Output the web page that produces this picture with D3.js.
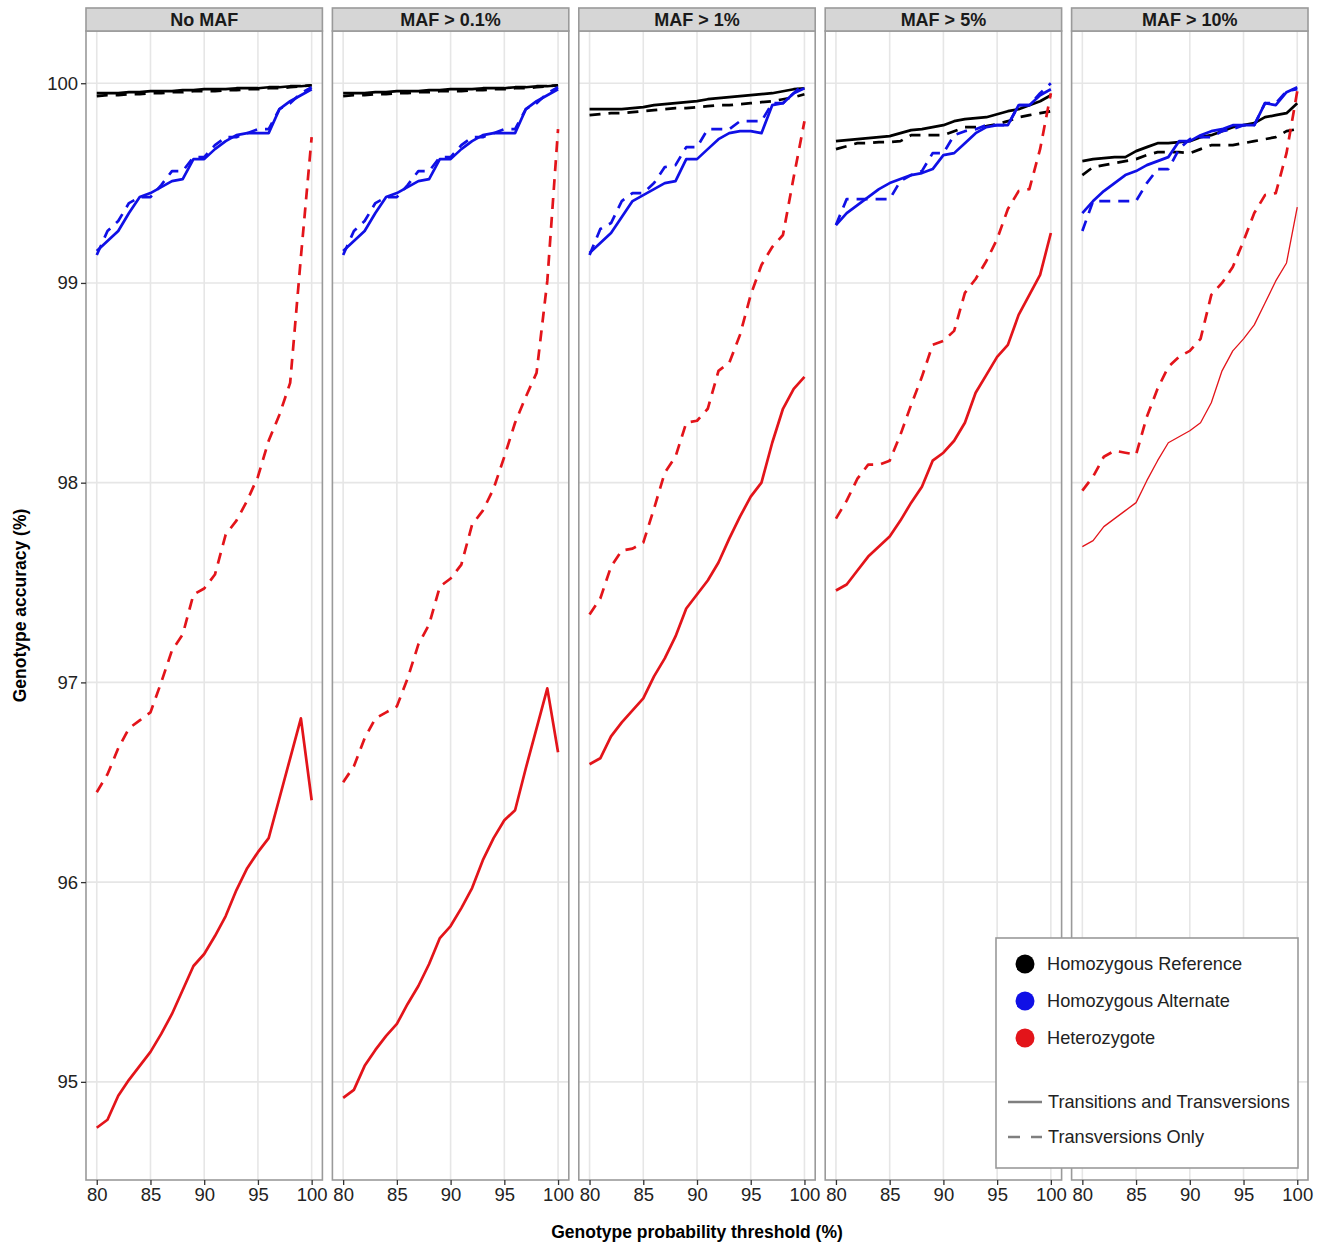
<!DOCTYPE html>
<html>
<head>
<meta charset="utf-8">
<script src="https://cdn.jsdelivr.net/npm/d3@7"></script>
<style>
  body { margin: 0; background: #fff; }
  svg text { font-family: "Liberation Sans", Arial, Helvetica, sans-serif; }
</style>
</head>
<body>
<div id="chart"></div>
<script>
// facets, groups and x values
const panels = ["No MAF", "MAF > 0.1%", "MAF > 1%", "MAF > 5%", "MAF > 10%"];
const genotypes = ["Homozygous Reference", "Homozygous Alternate", "Heterozygote"];
const variantSets = ["Transitions and Transversions", "Transversions Only"];
const thresholds = [80, 81, 82, 83, 84, 85, 86, 87, 88, 89, 90, 91, 92, 93, 94, 95, 96, 97, 98, 99, 100];
const xTicks = [80, 85, 90, 95, 100];
const yTicks = [95, 96, 97, 98, 99, 100];

// accuracy (%) per panel, one row per facet
const homRefAll = [
  [99.95, 99.95, 99.95, 99.955, 99.955, 99.96, 99.96, 99.96, 99.965, 99.965, 99.97, 99.97, 99.97, 99.975, 99.975, 99.975, 99.98, 99.98, 99.985, 99.985, 99.99],
  [99.95, 99.95, 99.95, 99.955, 99.955, 99.96, 99.96, 99.96, 99.965, 99.965, 99.97, 99.97, 99.97, 99.975, 99.975, 99.975, 99.98, 99.98, 99.985, 99.985, 99.99],
  [99.87, 99.87, 99.87, 99.87, 99.875, 99.88, 99.89, 99.895, 99.90, 99.905, 99.91, 99.92, 99.925, 99.93, 99.935, 99.94, 99.945, 99.95, 99.96, 99.97, 99.975],
  [99.71, 99.715, 99.72, 99.725, 99.73, 99.735, 99.75, 99.765, 99.77, 99.78, 99.79, 99.81, 99.82, 99.825, 99.83, 99.845, 99.86, 99.87, 99.89, 99.91, 99.94],
  [99.61, 99.62, 99.625, 99.63, 99.63, 99.66, 99.68, 99.70, 99.70, 99.705, 99.71, 99.73, 99.74, 99.76, 99.78, 99.79, 99.80, 99.83, 99.84, 99.85, 99.90]
];
const homRefTv = [
  [99.935, 99.94, 99.94, 99.945, 99.945, 99.95, 99.95, 99.955, 99.955, 99.96, 99.96, 99.96, 99.965, 99.965, 99.97, 99.97, 99.975, 99.975, 99.98, 99.985, 99.99],
  [99.935, 99.94, 99.94, 99.945, 99.945, 99.95, 99.95, 99.955, 99.955, 99.96, 99.96, 99.96, 99.965, 99.965, 99.97, 99.97, 99.975, 99.975, 99.98, 99.985, 99.99],
  [99.84, 99.845, 99.85, 99.85, 99.855, 99.86, 99.865, 99.87, 99.875, 99.875, 99.88, 99.885, 99.89, 99.89, 99.895, 99.90, 99.905, 99.91, 99.92, 99.93, 99.945],
  [99.67, 99.685, 99.70, 99.70, 99.705, 99.705, 99.71, 99.74, 99.74, 99.74, 99.74, 99.76, 99.78, 99.78, 99.785, 99.795, 99.81, 99.83, 99.84, 99.85, 99.86],
  [99.54, 99.58, 99.59, 99.60, 99.61, 99.62, 99.64, 99.655, 99.655, 99.655, 99.65, 99.67, 99.69, 99.69, 99.69, 99.70, 99.71, 99.72, 99.73, 99.76, 99.77]
];
const homAltAll = [
  [99.16, 99.21, 99.26, 99.35, 99.43, 99.45, 99.48, 99.51, 99.52, 99.62, 99.62, 99.67, 99.71, 99.74, 99.75, 99.75, 99.75, 99.87, 99.91, 99.94, 99.97],
  [99.16, 99.21, 99.26, 99.35, 99.43, 99.45, 99.48, 99.51, 99.52, 99.62, 99.62, 99.67, 99.71, 99.74, 99.75, 99.75, 99.75, 99.87, 99.91, 99.94, 99.97],
  [99.15, 99.20, 99.25, 99.33, 99.41, 99.44, 99.47, 99.50, 99.51, 99.62, 99.62, 99.67, 99.72, 99.75, 99.76, 99.76, 99.75, 99.89, 99.90, 99.95, 99.975],
  [99.29, 99.35, 99.39, 99.43, 99.47, 99.50, 99.52, 99.54, 99.55, 99.57, 99.64, 99.65, 99.70, 99.75, 99.78, 99.79, 99.79, 99.89, 99.89, 99.94, 99.97],
  [99.35, 99.41, 99.46, 99.50, 99.54, 99.56, 99.59, 99.61, 99.63, 99.71, 99.71, 99.74, 99.76, 99.77, 99.79, 99.79, 99.79, 99.90, 99.89, 99.955, 99.98]
];
const homAltTv = [
  [99.14, 99.26, 99.31, 99.40, 99.43, 99.43, 99.49, 99.56, 99.56, 99.63, 99.63, 99.69, 99.73, 99.73, 99.75, 99.77, 99.77, 99.87, 99.90, 99.95, 99.98],
  [99.14, 99.26, 99.31, 99.40, 99.43, 99.43, 99.49, 99.56, 99.56, 99.63, 99.63, 99.69, 99.73, 99.73, 99.75, 99.77, 99.77, 99.87, 99.90, 99.95, 99.98],
  [99.14, 99.27, 99.30, 99.41, 99.45, 99.45, 99.50, 99.58, 99.59, 99.68, 99.68, 99.77, 99.77, 99.77, 99.81, 99.81, 99.81, 99.90, 99.90, 99.95, 100.0],
  [99.29, 99.42, 99.42, 99.42, 99.42, 99.42, 99.51, 99.54, 99.56, 99.65, 99.65, 99.74, 99.76, 99.77, 99.79, 99.79, 99.79, 99.89, 99.89, 99.95, 100.0],
  [99.26, 99.41, 99.41, 99.41, 99.41, 99.41, 99.50, 99.57, 99.57, 99.67, 99.72, 99.73, 99.73, 99.76, 99.77, 99.79, 99.79, 99.90, 99.90, 99.96, 99.97]
];
const hetAll = [
  [94.77, 94.81, 94.93, 95.01, 95.08, 95.15, 95.24, 95.34, 95.46, 95.58, 95.64, 95.73, 95.83, 95.96, 96.07, 96.15, 96.22, 96.42, 96.62, 96.82, 96.41],
  [94.92, 94.96, 95.08, 95.16, 95.23, 95.29, 95.39, 95.48, 95.59, 95.72, 95.78, 95.87, 95.97, 96.11, 96.22, 96.31, 96.36, 96.57, 96.77, 96.97, 96.65],
  [96.59, 96.62, 96.73, 96.80, 96.86, 96.92, 97.03, 97.12, 97.23, 97.37, 97.44, 97.51, 97.60, 97.72, 97.83, 97.93, 98.00, 98.20, 98.37, 98.47, 98.53],
  [97.46, 97.49, 97.56, 97.63, 97.68, 97.73, 97.81, 97.90, 97.98, 98.11, 98.15, 98.21, 98.30, 98.45, 98.54, 98.63, 98.69, 98.84, 98.94, 99.04, 99.25],
  [97.68, 97.71, 97.78, 97.82, 97.86, 97.90, 98.01, 98.11, 98.20, 98.23, 98.26, 98.30, 98.40, 98.56, 98.66, 98.72, 98.79, 98.90, 99.01, 99.10, 99.38]
];
const hetTv = [
  [96.45, 96.54, 96.67, 96.77, 96.81, 96.85, 97.00, 97.16, 97.24, 97.44, 97.47, 97.54, 97.74, 97.81, 97.91, 98.03, 98.21, 98.34, 98.50, 99.13, 99.73],
  [96.50, 96.58, 96.72, 96.82, 96.85, 96.88, 97.02, 97.19, 97.29, 97.48, 97.52, 97.59, 97.79, 97.86, 97.97, 98.13, 98.30, 98.43, 98.55, 99.01, 99.77],
  [97.34, 97.42, 97.58, 97.66, 97.67, 97.70, 97.87, 98.05, 98.13, 98.30, 98.31, 98.37, 98.56, 98.60, 98.74, 98.94, 99.09, 99.18, 99.24, 99.53, 99.81],
  [97.82, 97.91, 98.02, 98.09, 98.09, 98.11, 98.24, 98.39, 98.53, 98.69, 98.71, 98.76, 98.95, 99.02, 99.11, 99.22, 99.37, 99.46, 99.47, 99.67, 99.95],
  [97.96, 98.03, 98.13, 98.16, 98.15, 98.14, 98.33, 98.47, 98.58, 98.63, 98.66, 98.72, 98.94, 99.00, 99.08, 99.21, 99.35, 99.44, 99.45, 99.65, 99.96]
];

const colors = { "Homozygous Reference": "#000000", "Homozygous Alternate": "#1010e6", "Heterozygote": "#e3141a" };
const dashes = { "Transitions and Transversions": null, "Transversions Only": "11,8" };

// series table built from the arrays above
const seriesSources = [
  [genotypes[0], variantSets[0], homRefAll], [genotypes[0], variantSets[1], homRefTv],
  [genotypes[1], variantSets[0], homAltAll], [genotypes[1], variantSets[1], homAltTv],
  [genotypes[2], variantSets[0], hetAll], [genotypes[2], variantSets[1], hetTv]
];
const series = [];
panels.forEach(function(p, pi) {
  seriesSources.forEach(function(s) {
    series.push({ panel: p, genotype: s[0], set: s[1],
      values: thresholds.map(function(t, i) { return { x: t, y: s[2][pi][i] }; }) });
  });
});

const width = 1328, height = 1243;
const plot = { left: 86, right: 1308, top: 31, bottom: 1180, stripTop: 8 };

const svg = d3.select("#chart").append("svg")
  .attr("width", width).attr("height", height);

// facet positions
const fx = d3.scaleBand().domain(panels).range([plot.left, plot.right])
  .paddingInner(10 / 246.4).paddingOuter(0);

// ggplot style 5% expansion
const allY = series.flatMap(function(s) { return s.values.map(function(v) { return v.y; }); });
const yExt = d3.extent(allY);
const yPad = (yExt[1] - yExt[0]) * 0.05;
const y = d3.scaleLinear().domain([yExt[0] - yPad, yExt[1] + yPad]).range([plot.bottom, plot.top]);
const xExt = d3.extent(thresholds);
const xPad = (xExt[1] - xExt[0]) * 0.05;

panels.forEach(function(p) {
  const x0 = fx(p), bw = fx.bandwidth();
  const x = d3.scaleLinear().domain([xExt[0] - xPad, xExt[1] + xPad]).range([x0, x0 + bw]);
  const g = svg.append("g");

  g.append("rect").attr("x", x0).attr("y", plot.top).attr("width", bw)
    .attr("height", plot.bottom - plot.top).attr("fill", "#fff");

  // grid
  g.selectAll(".gx").data(xTicks).enter().append("line")
    .attr("x1", function(d) { return x(d); }).attr("x2", function(d) { return x(d); })
    .attr("y1", plot.top).attr("y2", plot.bottom)
    .attr("stroke", "#e6e6e6").attr("stroke-width", 1.6);
  g.selectAll(".gy").data(yTicks).enter().append("line")
    .attr("x1", x0).attr("x2", x0 + bw)
    .attr("y1", function(d) { return y(d); }).attr("y2", function(d) { return y(d); })
    .attr("stroke", "#e6e6e6").attr("stroke-width", 1.6);

  const line = d3.line().x(function(d) { return x(d.x); }).y(function(d) { return y(d.y); });
  g.selectAll(".series").data(series.filter(function(s) { return s.panel === p; }))
    .enter().append("path")
    .attr("d", function(d) { return line(d.values); })
    .attr("fill", "none")
    .attr("stroke", function(d) { return colors[d.genotype]; })
    // the last facet's heterozygote line is drawn thin in the original
    .attr("stroke-width", function(d) { return (p === panels[4] && d.genotype === genotypes[2] && d.set === variantSets[0]) ? 1.3 : 2.7; })
    .attr("stroke-dasharray", function(d) { return dashes[d.set]; })
    .attr("stroke-linejoin", "round");

  // panel border
  g.append("rect").attr("x", x0).attr("y", plot.top).attr("width", bw)
    .attr("height", plot.bottom - plot.top)
    .attr("fill", "none").attr("stroke", "#9a9a9a").attr("stroke-width", 1.6);

  // strip
  g.append("rect").attr("x", x0).attr("y", plot.stripTop).attr("width", bw)
    .attr("height", plot.top - plot.stripTop)
    .attr("fill", "#d6d6d6").attr("stroke", "#9a9a9a").attr("stroke-width", 1.6);
  g.append("text").attr("x", x0 + bw / 2).attr("y", 26)
    .attr("text-anchor", "middle").style("font-size", "18px").style("font-weight", "bold")
    .attr("fill", "#1a1a1a").text(p);

  // x axis
  const xa = g.append("g").attr("transform", "translate(0," + plot.bottom + ")")
    .call(d3.axisBottom(x).tickValues(xTicks).tickFormat(d3.format("d")).tickSize(5).tickPadding(3).tickSizeOuter(0));
  xa.select(".domain").remove();
  xa.selectAll("line").attr("stroke", "#333").attr("stroke-width", 1.3);
  xa.selectAll("text").style("font-size", "18.5px").attr("fill", "#222")
    .style("font-family", "Liberation Sans, Arial, sans-serif");
});

// y axis
const ya = svg.append("g").attr("transform", "translate(" + plot.left + ",0)")
  .call(d3.axisLeft(y).tickValues(yTicks).tickFormat(d3.format("d")).tickSize(5).tickPadding(3).tickSizeOuter(0));
ya.select(".domain").remove();
ya.selectAll("line").attr("stroke", "#333").attr("stroke-width", 1.3);
ya.selectAll("text").style("font-size", "18.5px").attr("fill", "#222")
  .style("font-family", "Liberation Sans, Arial, sans-serif");

// axis titles
svg.append("text").attr("transform", "translate(26," + ((plot.top + plot.bottom) / 2) + ") rotate(-90)")
  .attr("text-anchor", "middle").style("font-size", "17.5px").style("font-weight", "bold")
  .text("Genotype accuracy (%)");
svg.append("text").attr("x", (plot.left + plot.right) / 2).attr("y", 1238)
  .attr("text-anchor", "middle").style("font-size", "17.5px").style("font-weight", "bold")
  .text("Genotype probability threshold (%)");

// legend
const legend = svg.append("g").attr("transform", "translate(996,938)");
legend.append("rect").attr("width", 302).attr("height", 230)
  .attr("fill", "#fff").attr("stroke", "#9a9a9a").attr("stroke-width", 1.6);
const gItems = legend.selectAll(".gi").data(genotypes).enter().append("g")
  .attr("transform", function(d, i) { return "translate(0," + (26 + i * 37) + ")"; });
gItems.append("circle").attr("cx", 29).attr("r", 9.5).attr("fill", function(d) { return colors[d]; });
gItems.append("text").attr("x", 51).attr("y", 6).style("font-size", "18.2px").attr("fill", "#222")
  .text(function(d) { return d; });
const sItems = legend.selectAll(".si").data(variantSets).enter().append("g")
  .attr("transform", function(d, i) { return "translate(0," + (164 + i * 35) + ")"; });
sItems.append("line").attr("x1", 12).attr("x2", 46)
  .attr("stroke", "#7f7f7f").attr("stroke-width", 2.4)
  .attr("stroke-dasharray", function(d) { return d === variantSets[1] ? "12,11" : null; });
sItems.append("text").attr("x", 52).attr("y", 6).style("font-size", "18.2px").attr("fill", "#222")
  .text(function(d) { return d; });
</script>
</body>
</html>
